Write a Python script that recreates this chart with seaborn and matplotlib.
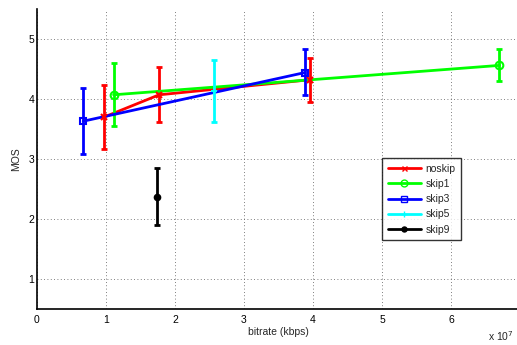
import matplotlib
matplotlib.use("Agg")
import matplotlib.pyplot as plt
import seaborn as sns
import pandas as pd
from matplotlib.lines import Line2D

sns.set_style("white")
plt.rcParams['font.family'] = ['Liberation Sans', 'DejaVu Sans']

# ---- data (bitrate in units of 1e7, MOS) ----
series_names = ["noskip", "skip1", "skip3", "skip5", "skip9"]

noskip_x = [0.975, 1.77, 3.95]
noskip_y = [3.70, 4.07, 4.32]
noskip_lo = [3.16, 3.61, 3.95]
noskip_hi = [4.23, 4.53, 4.69]

skip1_x = [1.11, 6.70]
skip1_y = [4.07, 4.56]
skip1_lo = [3.55, 4.30]
skip1_hi = [4.60, 4.84]

skip3_x = [0.67, 3.88]
skip3_y = [3.63, 4.44]
skip3_lo = [3.08, 4.06]
skip3_hi = [4.18, 4.83]

skip5_x = [2.57]
skip5_y = [4.13]
skip5_lo = [3.62]
skip5_hi = [4.65]

skip9_x = [1.74]
skip9_y = [2.37]
skip9_lo = [1.90]
skip9_hi = [2.85]

x_ticks = [0, 1, 2, 3, 4, 5, 6]
y_ticks = [1, 2, 3, 4, 5]

colors = ["#ff0000", "#00ff00", "#0000ff", "#00ffff", "#000000"]
markers = ["x", "o", "s", "+", "."]
filled = [True, False, False, True, True]
msizes = [4, 5.5, 5, 5, 8]

data = [
    (noskip_x, noskip_y, noskip_lo, noskip_hi),
    (skip1_x, skip1_y, skip1_lo, skip1_hi),
    (skip3_x, skip3_y, skip3_lo, skip3_hi),
    (skip5_x, skip5_y, skip5_lo, skip5_hi),
    (skip9_x, skip9_y, skip9_lo, skip9_hi),
]

fig = plt.figure(figsize=(5.17, 3.45), dpi=100)
ax = fig.add_axes([37 / 517, 36 / 345, 483 / 517, 300 / 345])

handles = []
for name, (xs, ys, lo, hi), c, m, f, ms in zip(series_names, data, colors,
                                               markers, filled, msizes):
    df = pd.DataFrame({"x": xs, "y": ys})
    yerr = [[y - l for y, l in zip(ys, lo)], [h - y for y, h in zip(ys, hi)]]
    ax.errorbar(xs, ys, yerr=yerr, fmt="none", ecolor=c, elinewidth=2,
                capsize=2.2, capthick=2, zorder=3)
    if len(xs) > 1:
        sns.lineplot(data=df, x="x", y="y", ax=ax, color=c, linewidth=2,
                     sort=False, legend=False, zorder=3)
    ax.plot(xs, ys, linestyle="none", marker=m, color=c, markersize=ms,
            markeredgewidth=1.5,
            markerfacecolor=(c if f else "none"), zorder=4)
    handles.append(Line2D([0], [0], color=c, linewidth=2, marker=m,
                          markersize=ms * 0.9, markeredgewidth=1,
                          markerfacecolor=(c if f else "none"), label=name))

ax.set_xlim(0, 7)
ax.set_ylim(0.5, 5.5)
ax.set_xticks(x_ticks)
ax.set_yticks(y_ticks)
ax.set_xticklabels([str(t) for t in x_ticks], fontsize=7.5)
ax.set_yticklabels([str(t) for t in y_ticks], fontsize=7.5)
ax.tick_params(axis="x", direction="in", length=4, width=0.8, colors="black", pad=4)
ax.tick_params(axis="y", direction="in", length=4, width=0.8, colors="black", pad=2)

ax.grid(True, linestyle=(0, (1, 3)), color="#555555", linewidth=0.6)
for s in ["top", "right"]:
    ax.spines[s].set_visible(False)
for s in ["left", "bottom"]:
    ax.spines[s].set_color("black")
    ax.spines[s].set_linewidth(1.2)

ax.set_xlabel("bitrate (kbps)", fontsize=7.5, labelpad=2)
ax.set_ylabel("MOS", fontsize=7.5, labelpad=5)
fig.text(514 / 517, 1 - 336 / 345, "x 10$^7$", fontsize=7.5, va="center",
         ha="right")

leg = ax.legend(handles=handles, loc="upper left",
                bbox_to_anchor=((382 - 37) / 483, (309 - 158) / 300),
                fontsize=7.5, frameon=True, fancybox=False, handlelength=3.2,
                handletextpad=0.4, borderpad=0.55, labelspacing=0.5,
                borderaxespad=0)
leg.get_frame().set_edgecolor("black")
leg.get_frame().set_linewidth(1.0)

fig.savefig("out.png", dpi=100)
